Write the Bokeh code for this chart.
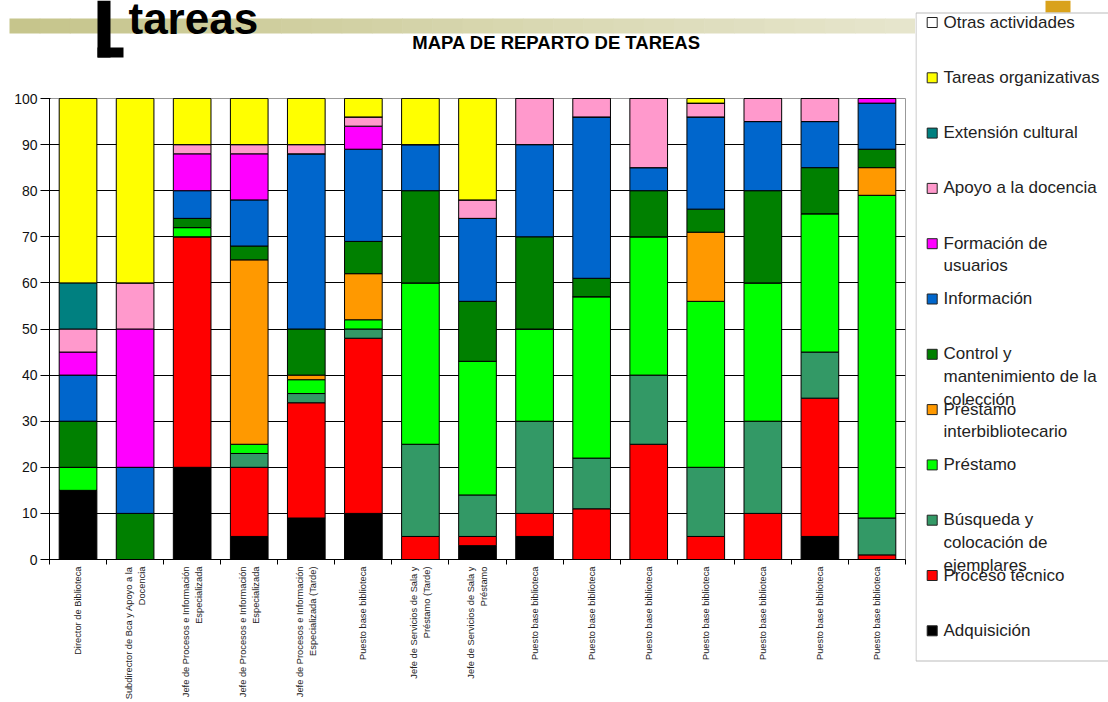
import math
from bokeh.plotting import figure
from bokeh.layouts import row, column
from bokeh.models import ColumnDataSource, FixedTicker, Range1d
from bokeh.core.properties import value
from bokeh.embed import file_html
from bokeh.resources import INLINE

# ---------------- data ----------------
puestos = [
    "Director de Biblioteca",
    "Subdirector de Bca y Apoyo a la\nDocencia",
    "Jefe de Procesos e Información\nEspecializada",
    "Jefe de Procesos e Información\nEspecializada",
    "Jefe de Procesos e Información\nEspecializada (Tarde)",
    "Puesto base biblioteca",
    "Jefe de Servicios de Sala y\nPréstamo (Tarde)",
    "Jefe de Servicios de Sala y\nPréstamo",
    "Puesto base biblioteca",
    "Puesto base biblioteca",
    "Puesto base biblioteca",
    "Puesto base biblioteca",
    "Puesto base biblioteca",
    "Puesto base biblioteca",
    "Puesto base biblioteca",
]

series = [
    "Adquisición",
    "Proceso técnico",
    "Búsqueda y\ncolocación de\nejemplares",
    "Préstamo",
    "Préstamo\ninterbibliotecario",
    "Control y\nmantenimiento de la\ncolección",
    "Información",
    "Formación de\nusuarios",
    "Apoyo a la docencia",
    "Extensión cultural",
    "Tareas organizativas",
    "Otras actividades",
]

adquisicion = [15, 0, 20, 5, 9, 10, 0, 3, 5, 0, 0, 0, 0, 5, 0]
proceso_tecnico = [0, 0, 50, 15, 25, 38, 5, 2, 5, 11, 25, 5, 10, 30, 1]
busqueda = [0, 0, 0, 3, 2, 2, 20, 9, 20, 11, 15, 15, 20, 10, 8]
prestamo = [5, 0, 2, 2, 3, 2, 35, 29, 20, 35, 30, 36, 30, 30, 70]
prestamo_interbib = [0, 0, 0, 40, 1, 10, 0, 0, 0, 0, 0, 15, 0, 0, 6]
control = [10, 10, 2, 3, 10, 7, 20, 13, 20, 4, 10, 5, 20, 10, 4]
informacion = [10, 10, 6, 10, 38, 20, 10, 18, 20, 35, 5, 20, 15, 10, 10]
formacion = [5, 30, 8, 10, 0, 5, 0, 0, 0, 0, 0, 0, 0, 0, 1]
apoyo_docencia = [5, 10, 2, 2, 2, 2, 0, 4, 10, 4, 15, 3, 5, 5, 0]
extension = [10, 0, 0, 0, 0, 0, 0, 0, 0, 0, 0, 0, 0, 0, 0]
tareas_org = [40, 40, 10, 10, 10, 4, 10, 22, 0, 0, 0, 1, 0, 0, 0]
otras = [0, 0, 0, 0, 0, 0, 0, 0, 0, 0, 0, 0, 0, 0, 0]

colors = ["#000000", "#FF0000", "#339966", "#00FF00", "#FF9900", "#008000",
          "#0066CC", "#FF00FF", "#FF99CC", "#008080", "#FFFF00", "#FFFFFF"]

yticks = [0, 10, 20, 30, 40, 50, 60, 70, 80, 90, 100]

titulo = "MAPA DE REPARTO DE TAREAS"
encabezado = "tareas"

values = [adquisicion, proceso_tecnico, busqueda, prestamo, prestamo_interbib,
          control, informacion, formacion, apoyo_docencia, extension,
          tareas_org, otras]

FONT = "Liberation Sans"
LEFT_W = 915          # width of the chart column
TOTAL_H = 702

# ---------------- header (slide decoration + title) ----------------
HH = 60
hdr = figure(width=LEFT_W, height=HH, output_backend="svg", toolbar_location=None,
             x_range=Range1d(0, LEFT_W), y_range=Range1d(HH, 0),
             x_axis_type=None, y_axis_type=None, min_border=0)
hdr.outline_line_color = None
hdr.grid.visible = False

n_seg = 30
c0 = (0xC6, 0xC5, 0x8C)
c1 = (0xE6, 0xE5, 0xCC)
seg_w = (LEFT_W - 9) / n_seg
band_l, band_r, band_c = [], [], []
for i in range(n_seg):
    t = i / (n_seg - 1)
    band_l.append(9 + i * seg_w)
    band_r.append(9 + (i + 1) * seg_w + 0.6)
    band_c.append("#%02X%02X%02X" % tuple(int(round(a + (b - a) * t)) for a, b in zip(c0, c1)))
hdr.quad(left=band_l, right=band_r, top=[18] * n_seg, bottom=[33] * n_seg,
         fill_color=band_c, line_color=None)
hdr.quad(left=[97, 97], right=[110, 123], top=[0, 47], bottom=[57, 57],
         fill_color="black", line_color=None)
hdr.text(x=[128], y=[18], text=[encabezado], text_font=value(FONT),
         text_font_style="bold", text_font_size="44px", text_color="black",
         text_baseline="alphabetic", text_align="left")
hdr.text(x=[556], y=[42], text=[titulo], text_font=value(FONT),
         text_font_style="bold", text_font_size="18.5px", text_color="black",
         text_baseline="middle", text_align="center")

# ---------------- main chart ----------------
xs = list(range(1, len(puestos) + 1))
keys = ["s%d" % i for i in range(len(series))]
data = {"x": xs}
for k, v in zip(keys, values):
    data[k] = v
src = ColumnDataSource(data)

p = figure(width=LEFT_W, height=TOTAL_H - HH, output_backend="svg", toolbar_location=None,
           x_range=Range1d(0.5, len(puestos) + 0.5), y_range=Range1d(0, 100),
           min_border_left=49, min_border_right=10, min_border_top=38,
           min_border_bottom=TOTAL_H - 559)
p.outline_line_color = "#999999"

p.vbar_stack(keys, x="x", width=0.66, source=src, fill_color=colors,
             line_color="black", line_width=1)

p.xgrid.grid_line_color = None
p.ygrid.grid_line_color = "black"
p.ygrid.ticker = FixedTicker(ticks=yticks)

p.yaxis.ticker = FixedTicker(ticks=yticks)
p.yaxis.major_tick_out = 9
p.yaxis.major_tick_in = 1
p.yaxis.minor_tick_line_color = None
p.yaxis.axis_line_color = "black"
p.yaxis.major_tick_line_color = "black"
p.yaxis.major_label_text_font = FONT
p.yaxis.major_label_text_font_size = "14px"
p.yaxis.major_label_text_color = "#111111"
p.yaxis.major_label_standoff = 3

p.xaxis.ticker = FixedTicker(ticks=xs, minor_ticks=[x - 0.5 for x in xs] + [xs[-1] + 0.5])
p.xaxis.major_label_overrides = {x: lab for x, lab in zip(xs, puestos)}
p.xaxis.major_label_orientation = math.pi / 2
p.xaxis.major_tick_out = 0
p.xaxis.major_tick_in = 0
p.xaxis.minor_tick_out = 5
p.xaxis.minor_tick_in = 0
p.xaxis.minor_tick_line_color = "black"
p.xaxis.axis_line_color = "black"
p.xaxis.major_label_text_font = FONT
p.xaxis.major_label_text_font_size = "9.3px"
p.xaxis.major_label_text_color = "#222222"
p.xaxis.major_label_standoff = 2
p.xaxis.major_label_text_line_height = 1.3

# ---------------- legend panel ----------------
LW = 193
lg = figure(width=LW, height=TOTAL_H, output_backend="svg", toolbar_location=None,
            x_range=Range1d(0, LW), y_range=Range1d(TOTAL_H, 0),
            x_axis_type=None, y_axis_type=None, min_border=0)
lg.outline_line_color = None
lg.grid.visible = False

# small gold mark of the slide template, behind the legend box
lg.quad(left=[130], right=[155], top=[0], bottom=[12], fill_color="#D9A21B", line_color=None)
# legend box
lg.quad(left=[0.5], right=[LW + 20], top=[12.5], bottom=[660.5],
        fill_color="white", line_color="#BBBBBB", line_width=1)

order = list(range(len(series)))[::-1]
pitch = 55.3
item_y = [22 + pitch * i for i in range(len(order))]
lg.rect(x=[16.7] * len(order), y=item_y, width=10, height=10,
        fill_color=[colors[j] for j in order], line_color="#222222", line_width=1)
lg.text(x=[28] * len(order), y=[yy - 10 for yy in item_y],
        text=[series[j] for j in order], text_font=value(FONT), text_font_size="17px",
        text_color="#222222", text_baseline="top", text_align="left",
        text_line_height=1.2)

layout = row(column(row(hdr), p), lg)
open("out.html", "w").write(file_html(layout, INLINE))
